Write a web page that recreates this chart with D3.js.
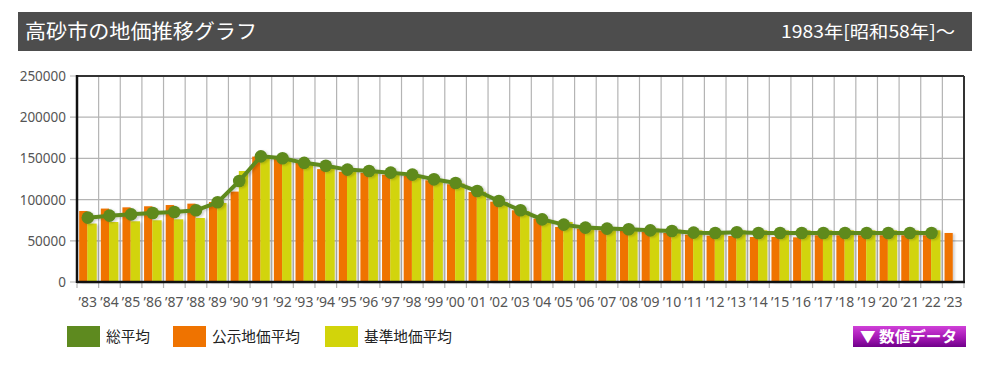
<!DOCTYPE html>
<html><head><meta charset="utf-8">
<script src="https://cdn.jsdelivr.net/npm/d3@7"></script>
<style>
html,body{margin:0;padding:0;background:#fff;}
svg{display:block;}
</style></head>
<body>
<svg id="chart" width="990" height="367"></svg>
<script>
const title = "高砂市の地価推移グラフ";
const subtitle = "1983年[昭和58年]～";
const years = [1983,1984,1985,1986,1987,1988,1989,1990,1991,1992,1993,1994,1995,1996,1997,1998,1999,2000,2001,2002,2003,2004,2005,2006,2007,2008,2009,2010,2011,2012,2013,2014,2015,2016,2017,2018,2019,2020,2021,2022,2023];
const yearLabels = ["’83","’84","’85","’86","’87","’88","’89","’90","’91","’92","’93","’94","’95","’96","’97","’98","’99","’00","’01","’02","’03","’04","’05","’06","’07","’08","’09","’10","’11","’12","’13","’14","’15","’16","’17","’18","’19","’20","’21","’22","’23"];
const seriesNames = ["総平均","公示地価平均","基準地価平均"];
const koujiValues = [86200,89100,90600,91900,93400,95100,97100,109700,152200,149700,145600,137000,133800,132600,130300,128700,123400,118600,109200,97500,87000,76900,66800,64800,62700,61900,60700,59500,57500,56300,55800,54600,54600,54200,56700,56700,56700,56700,56700,56700,59500];
const kijunValues = [70900,72800,73700,74900,76100,77700,95900,134700,151000,148000,143000,140000,135500,134000,132000,129500,124000,119500,109500,97000,86000,75500,72800,67600,66800,65500,64800,63600,62700,61900,62700,62700,62700,62700,62700,62700,62700,62700,62700,62700,null];
const totalValues = [78100,80500,82100,83700,85000,87000,96700,122600,152500,150100,144600,141100,136400,134700,132700,130300,124600,120100,110400,98300,87000,76000,69600,66000,64800,64000,62700,61900,59900,59500,60300,59500,59500,59500,59500,59500,59500,59500,59500,59500,null];
const yTicks = [0,50000,100000,150000,200000,250000];
const buttonLabel = "▼ 数値データ";

const colors = {total:"#5e8a1f", kouji:"#ef7300", kijun:"#d2d40a"};
const svg = d3.select("#chart");
const font = "'Noto Sans CJK JP','Noto Sans',sans-serif";

const defs = svg.append("defs");
const f = defs.append("filter").attr("id","sh").attr("x","-20%").attr("y","-20%").attr("width","160%").attr("height","160%");
f.append("feDropShadow").attr("dx",2).attr("dy",1).attr("stdDeviation",1).attr("flood-color","#000").attr("flood-opacity",0.18);
const g2 = defs.append("linearGradient").attr("id","btn").attr("x1",0).attr("y1",0).attr("x2",0).attr("y2",1);
g2.append("stop").attr("offset","0%").attr("stop-color","#d040d8");
g2.append("stop").attr("offset","55%").attr("stop-color","#a418b4");
g2.append("stop").attr("offset","100%").attr("stop-color","#70008a");

// header
svg.append("rect").attr("x",18).attr("y",12).attr("width",954).attr("height",39).attr("fill","#4d4d4d");
svg.append("text").attr("x",25).attr("y",39).attr("fill","#fff").attr("font-family",font)
  .attr("font-size",20).attr("textLength",232).attr("lengthAdjust","spacingAndGlyphs").text(title);
svg.append("text").attr("x",955).attr("y",38).attr("text-anchor","end").attr("fill","#fff").attr("font-family",font)
  .attr("font-size",17).attr("textLength",174).attr("lengthAdjust","spacingAndGlyphs").text(subtitle);

const L=77, R=964, T=76, B=282;
const x = d3.scaleBand().domain(years).range([L,R]).paddingInner(0).paddingOuter(0);
const y = d3.scaleLinear().domain([0,250000]).range([B,T]);
const bw = x.bandwidth();

// grid
const grid = svg.append("g");
grid.selectAll("line.h").data(yTicks).join("line").attr("x1",70).attr("x2",R).attr("y1",d=>y(d)).attr("y2",d=>y(d))
  .attr("stroke","#b4b4b4").attr("stroke-width",1.2);
grid.selectAll("line.v").data(years.slice(1).concat([null])).join("line")
  .attr("x1",(d,i)=>L+bw*(i+1)).attr("x2",(d,i)=>L+bw*(i+1)).attr("y1",T).attr("y2",B+6)
  .attr("stroke","#b4b4b4").attr("stroke-width",1.2);
svg.append("line").attr("x1",L).attr("x2",L).attr("y1",B).attr("y2",B+6).attr("stroke","#b4b4b4").attr("stroke-width",1.2);

// bars
const bars = svg.append("g").attr("filter","url(#sh)");
bars.selectAll("rect.k").data(years.map((yr,i)=>({yr,v:koujiValues[i]})).filter(d=>d.v!=null)).join("rect")
  .attr("x",d=>x(d.yr)+bw*0.1).attr("width",bw*0.38).attr("y",d=>y(d.v)).attr("height",d=>B-y(d.v)).attr("fill",colors.kouji);
bars.selectAll("rect.j").data(years.map((yr,i)=>({yr,v:kijunValues[i]})).filter(d=>d.v!=null)).join("rect")
  .attr("x",d=>x(d.yr)+bw*0.48).attr("width",bw*0.43).attr("y",d=>y(d.v)).attr("height",d=>B-y(d.v)).attr("fill",colors.kijun);

// line
const tdata = years.map((yr,i)=>({yr,v:totalValues[i]})).filter(d=>d.v!=null);
const lg = svg.append("g").attr("filter","url(#sh)");
lg.append("path").datum(tdata).attr("d",d3.line().x(d=>x(d.yr)+bw/2).y(d=>y(d.v)))
  .attr("fill","none").attr("stroke",colors.total).attr("stroke-width",4).attr("stroke-linejoin","round");
lg.selectAll("circle").data(tdata).join("circle").attr("cx",d=>x(d.yr)+bw/2).attr("cy",d=>y(d.v)).attr("r",6.3).attr("fill",colors.total);

// frame
svg.append("line").attr("x1",L).attr("x2",R).attr("y1",T).attr("y2",T).attr("stroke","#333").attr("stroke-width",2);
svg.append("line").attr("x1",R).attr("x2",R).attr("y1",T).attr("y2",B).attr("stroke","#333").attr("stroke-width",2);
svg.append("line").attr("x1",L).attr("x2",R+1).attr("y1",B).attr("y2",B).attr("stroke","#111").attr("stroke-width",2.5);
svg.append("line").attr("x1",L).attr("x2",L).attr("y1",T-1).attr("y2",B+1).attr("stroke","#111").attr("stroke-width",2.5);

// y axis labels
svg.append("g").selectAll("text").data(yTicks).join("text").attr("x",66).attr("y",d=>y(d)+5)
  .attr("text-anchor","end").attr("font-family","'Noto Sans',sans-serif").attr("font-size",13.5).attr("fill","#555").text(d=>d);
// x labels
svg.append("g").selectAll("text").data(years).join("text").attr("x",d=>x(d)+bw/2).attr("y",307)
  .attr("text-anchor","middle").attr("font-family","'Noto Sans',sans-serif").attr("font-size",14).attr("fill","#555")
  .text((d,i)=>yearLabels[i]);

// legend
const legItems = [{n:seriesNames[0],c:colors.total,x:67,w:44},{n:seriesNames[1],c:colors.kouji,x:173,w:88},{n:seriesNames[2],c:colors.kijun,x:325,w:88}];
const leg = svg.append("g");
leg.selectAll("rect").data(legItems).join("rect").attr("x",d=>d.x).attr("y",326).attr("width",33).attr("height",21).attr("fill",d=>d.c);
leg.selectAll("text").data(legItems).join("text").attr("x",d=>d.x+39).attr("y",342).attr("font-family",font).attr("font-size",14.5)
  .attr("textLength",d=>d.w).attr("lengthAdjust","spacingAndGlyphs")
  .attr("fill","#222").text(d=>d.n);

// button
svg.append("rect").attr("x",853).attr("y",326).attr("width",113).attr("height",21).attr("fill","url(#btn)");
svg.append("text").attr("x",860).attr("y",342).attr("font-family",font).attr("font-size",15)
  .attr("textLength",97).attr("lengthAdjust","spacingAndGlyphs")
  .attr("font-weight","bold").attr("fill","#fff").text(buttonLabel);
</script>
</body></html>
